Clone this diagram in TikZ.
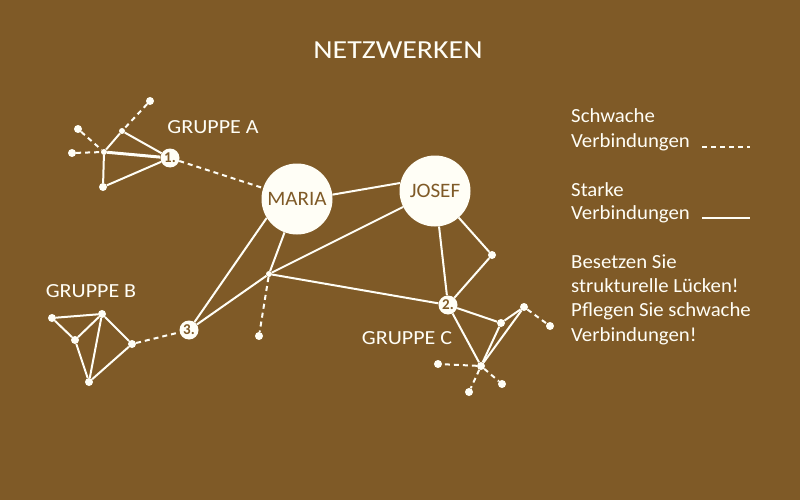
\documentclass[tikz,border=0pt]{standalone}
\usepackage{fontspec}
\setmainfont{Carlito}
\usetikzlibrary{backgrounds}
\definecolor{bg}{HTML}{7F5A27}
\definecolor{fg}{HTML}{FFFEF6}
\begin{document}
\begin{tikzpicture}[x=1pt,y=-1pt,
  bigc/.style={circle,fill=fg,inner sep=0pt,minimum size=71pt,text=bg,font=\fontsize{20.5}{20}\selectfont\addfontfeature{FakeStretch=1.03}},
  numc/.style={circle,fill=fg,inner sep=0pt,minimum size=19pt,text=bg,font=\bfseries\fontsize{15}{15}\selectfont},
  dotc/.style={circle,fill=fg,inner sep=0pt,minimum size=8pt},
  jdot/.style={circle,fill=fg,inner sep=0pt,minimum size=6pt},
  strong/.style={draw=fg,line width=2pt},
  weak/.style={draw=fg,line width=2pt,dash pattern=on 5pt off 4pt},
  lbl/.style={text=fg,inner sep=0pt,font=\fontsize{20}{20}\selectfont\addfontfeature{FakeStretch=1.04}},
  grp/.style={text=fg,inner sep=0pt,font=\fontsize{20}{20}\selectfont\addfontfeature{FakeStretch=1.1}},
  ttl/.style={text=fg,inner sep=0pt,font=\fontsize{26}{26}\selectfont\addfontfeature{FakeStretch=1.15}}]
\useasboundingbox (0,0) rectangle (800,500);
% main nodes
\node[bigc] (maria) at (297,199) {MARIA};
\node[bigc] (josef) at (435,191) {JOSEF};
\node[numc] (n1) at (170,158) {1.};
\node[numc] (n2) at (448,305) {2.};
\node[numc] (n3) at (189,330) {3.};
\node[jdot] (h) at (269,274) {};
\node[dotc] (hd) at (259,336) {};
\node[dotc] (jd) at (492,255) {};
% group A
\node[dotc] (a1) at (150,101) {};
\node[jdot] (a2) at (122,131) {};
\node[dotc] (a3) at (78,129) {};
\node[jdot] (a4) at (104,152) {};
\node[dotc] (a5) at (72,153) {};
\node[dotc] (a6) at (103,187) {};
% group B
\node[dotc] (b1) at (52,318) {};
\node[dotc] (b2) at (102,314) {};
\node[dotc] (b3) at (75,340) {};
\node[dotc] (b4) at (132,344) {};
\node[dotc] (b5) at (89,382) {};
% group C
\node[dotc] (c1) at (501,323) {};
\node[dotc] (c2) at (524,307) {};
\node[dotc] (c3) at (550,326) {};
\node[dotc] (c4) at (481,366) {};
\node[dotc] (c5) at (438,364) {};
\node[dotc] (c6) at (469,392) {};
\node[dotc] (c7) at (502,384) {};
% texts
\node[ttl,anchor=base] (title) at (398,59) {NETZWERKEN};
\node[grp,anchor=base] (ga) at (213,133) {GRUPPE A};
\node[grp,anchor=base] (gb) at (91,297) {GRUPPE B};
\node[grp,anchor=base] (gc) at (407,344) {GRUPPE C};
\node[lbl,anchor=base west] (l1) at (571,123) {Schwache};
\node[lbl,anchor=base west] (l2) at (571,147) {Verbindungen};
\node[lbl,anchor=base west] (l3) at (571,196) {Starke};
\node[lbl,anchor=base west] (l4) at (571,219) {Verbindungen};
\node[lbl,anchor=base west] (l5) at (571,268) {Besetzen Sie};
\node[lbl,anchor=base west] (l6) at (571,292) {strukturelle Lücken!};
\node[lbl,anchor=base west] (l7) at (571,316) {Pflegen Sie schwache};
\node[lbl,anchor=base west] (l8) at (571,341) {Verbindungen!};
\coordinate (w1) at (702,147); \coordinate (w2) at (750,147);
\coordinate (s1) at (702,218); \coordinate (s2) at (750,218);
\begin{scope}[on background layer]
\fill[bg] (0,0) rectangle (800,500);
% legend
\draw[weak] (w1) -- (w2);
\draw[strong] (s1) -- (s2);
% main
\draw[strong] (maria.7) -- (josef.167);
\draw[weak] (n1) -- (maria);
\draw[strong] (maria.212) -- (n3);
\draw[strong] (maria) -- (h);
\draw[strong] (josef) -- (h);
\draw[strong] (h) -- (n3);
\draw[strong] (h) -- (n2);
\draw[weak] (h) -- (hd);
\draw[strong] (josef) -- (n2);
\draw[strong] (josef) -- (jd);
\draw[strong] (jd) -- (n2);
% group A
\draw[weak] (a1) -- (a2);
\draw[weak] (a3) -- (a4);
\draw[weak] (a5) -- (a4);
\draw[strong] (a2) -- (a4);
\draw[strong] (a2) -- (n1);
\draw[strong,line width=3pt] (a4) -- (n1);
\draw[strong] (a4) -- (a6);
\draw[strong] (a6) -- (n1);
% group B
\draw[strong] (b1) -- (b2);
\draw[strong] (b1) -- (b3);
\draw[strong] (b3) -- (b2);
\draw[strong] (b3) -- (b5);
\draw[strong] (b2) -- (b5);
\draw[strong] (b2) -- (b4);
\draw[strong] (b4) -- (b5);
\draw[weak] (b4) -- (n3);
% group C
\draw[strong] (n2) -- (c1);
\draw[strong] (c1) -- (c2);
\draw[strong] (n2) -- (c4);
\draw[strong] (c4) -- (c1);
\draw[strong] (c4) -- (c2);
\draw[weak] (c2) -- (c3);
\draw[weak] (c4) -- (c5);
\draw[weak] (c4) -- (c6);
\draw[weak] (c4) -- (c7);
\end{scope}
\end{tikzpicture}
\end{document}
